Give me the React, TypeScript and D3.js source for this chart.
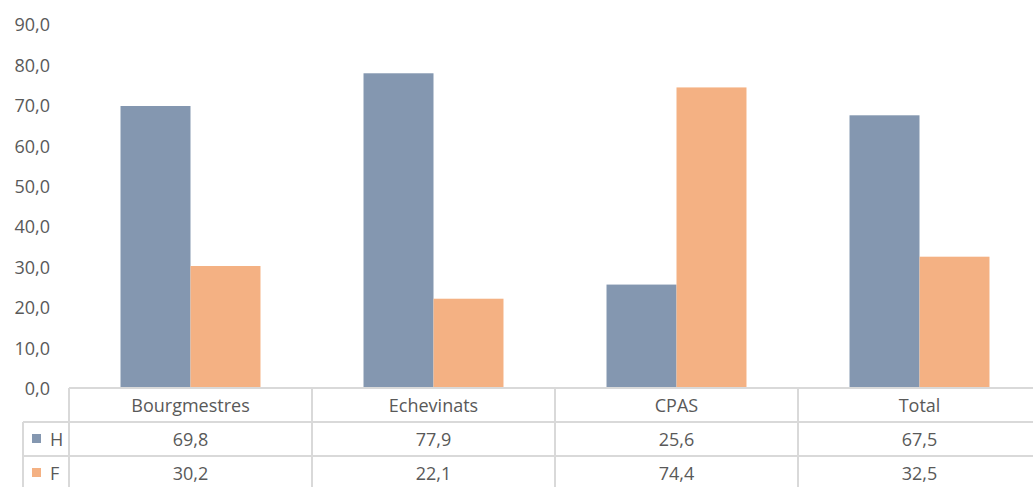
import React from "react";
import * as d3 from "d3";

const categories = ["Bourgmestres", "Echevinats", "CPAS", "Total"];
const seriesNames = ["H", "F"];
const valuesH = [69.8, 77.9, 25.6, 67.5];
const valuesF = [30.2, 22.1, 74.4, 32.5];
const yTicks = [0, 10, 20, 30, 40, 50, 60, 70, 80, 90];
const colors = ["#8497B0", "#F4B183"];

const W = 1033;
const H = 487;
const left = 69;
const catW = 243;
const y0 = 388;
const rowH = 34;
const font = "'Open Sans', sans-serif";
const textColor = "#595959";
const gridColor = "#D9D9D9";
const fs = 18;

export default function App() {
  const series = [valuesH, valuesF];
  const x0 = d3.scaleBand<string>().domain(categories).range([left, left + catW * categories.length]).padding(0);
  const x1 = d3.scaleBand<string>().domain(seriesNames).range([0, x0.bandwidth()]).paddingInner(0).paddingOuter(0.736);
  const y = d3.scaleLinear().domain([0, 90]).range([y0, y0 - 90 * 4.04]);
  const fmt = (v: number) => v.toFixed(1).replace(".", ",");
  const right = left + catW * categories.length;

  return (
    <svg width={W} height={H} style={{ position: "absolute", left: 0, top: 0, background: "#fff" }} fontFamily={font}>
      {yTicks.map((t) => (
        <text key={t} x={50} y={y(t)} textAnchor="end" dominantBaseline="central" fontSize={fs} fill={textColor}>
          {fmt(t)}
        </text>
      ))}
      {series.map((vals, si) =>
        categories.map((c, ci) => (
          <rect
            key={`${si}-${ci}`}
            x={(x0(c) ?? 0) + (x1(seriesNames[si]) ?? 0)}
            y={y(vals[ci])}
            width={x1.bandwidth()}
            height={y0 - y(vals[ci])}
            fill={colors[si]}
          />
        ))
      )}
      <line x1={left} x2={right} y1={y0} y2={y0} stroke={gridColor} strokeWidth={2} />
      <line x1={23} x2={right} y1={y0 + rowH} y2={y0 + rowH} stroke={gridColor} strokeWidth={2} />
      <line x1={23} x2={right} y1={y0 + 2 * rowH} y2={y0 + 2 * rowH} stroke={gridColor} strokeWidth={2} />
      <line x1={23} x2={23} y1={y0 + rowH} y2={H + 5} stroke={gridColor} strokeWidth={2} />
      {categories.map((c) => (
        <line key={c} x1={x0(c)} x2={x0(c)} y1={y0} y2={H + 5} stroke={gridColor} strokeWidth={2} />
      ))}
      <line x1={right} x2={right} y1={y0} y2={H + 5} stroke={gridColor} strokeWidth={2} />
      {categories.map((c) => (
        <text key={c} x={(x0(c) ?? 0) + x0.bandwidth() / 2} y={y0 + rowH / 2} textAnchor="middle" dominantBaseline="central" fontSize={fs} fill={textColor}>
          {c}
        </text>
      ))}
      {series.map((vals, si) => (
        <g key={si}>
          <rect x={32} y={y0 + rowH * (si + 1) + 12} width={9} height={9} fill={colors[si]} />
          <text x={50} y={y0 + rowH * (si + 1) + rowH / 2} dominantBaseline="central" fontSize={fs} fill={textColor}>
            {seriesNames[si]}
          </text>
          {categories.map((c, ci) => (
            <text key={c} x={(x0(c) ?? 0) + x0.bandwidth() / 2} y={y0 + rowH * (si + 1) + rowH / 2} textAnchor="middle" dominantBaseline="central" fontSize={fs} fill={textColor}>
              {fmt(vals[ci])}
            </text>
          ))}
        </g>
      ))}
    </svg>
  );
}
